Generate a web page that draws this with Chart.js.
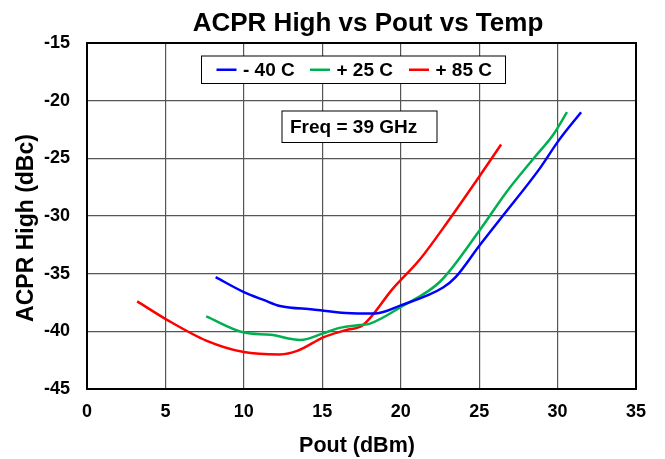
<!DOCTYPE html>
<html>
<head>
<meta charset="utf-8">
<title>ACPR High vs Pout vs Temp</title>
<script src="https://cdn.jsdelivr.net/npm/chart.js@4"></script>
<style>
  html, body { margin: 0; padding: 0; background: #fff; }
  #wrap { width: 665px; height: 459px; }
</style>
</head>
<body>
<div id="wrap"><canvas id="acpr-chart"></canvas></div>
<script>
// values
const poutCold = [8.2, 10.0, 11.3, 12.3, 14.4, 16.5, 18.4, 20.0, 22.7, 23.5, 25.0, 26.5, 28.8, 30.1, 31.5];
const acprCold = [-35.3, -36.6, -37.3, -37.8, -38.1, -38.4, -38.45, -37.75, -36.2, -35.3, -32.6, -30.0, -26.0, -23.4, -21.0];

const poutRoom = [7.6, 10.0, 11.7, 13.6, 15.0, 16.1, 17.4, 18.0, 20.0, 22.5, 25.0, 26.7, 28.6, 29.7, 30.6];
const acprRoom = [-38.7, -40.1, -40.3, -40.75, -40.2, -39.7, -39.45, -39.35, -37.9, -35.7, -31.3, -28.0, -24.8, -23.0, -21.0];

const poutHot = [3.2, 5.1, 7.6, 10.0, 12.3, 13.4, 15.1, 16.5, 17.6, 19.5, 21.2, 23.1, 25.0, 26.4];
const acprHot = [-37.4, -39.0, -40.8, -41.8, -42.0, -41.7, -40.5, -39.9, -39.45, -36.3, -33.8, -30.3, -26.6, -23.8];

const tempLabels = ['- 40 C', '+ 25 C', '+ 85 C'];
const tempColors = ['#0000ff', '#00b050', '#ff0000'];

const xTicks = [0, 5, 10, 15, 20, 25, 30, 35];
const yTicks = [-15, -20, -25, -30, -35, -40, -45];

const chartTitle = 'ACPR High vs Pout vs Temp';
const xTitle = 'Pout (dBm)';
const yTitle = 'ACPR High (dBc)';
const freqNote = 'Freq = 39 GHz';
const FONT = '"Liberation Sans", Arial, sans-serif';

function toPoints(xs, ys) {
    return xs.map((x, i) => ({ x: x, y: ys[i] }));
}

const series = [
    toPoints(poutCold, acprCold),
    toPoints(poutRoom, acprRoom),
    toPoints(poutHot, acprHot)
];

// titles, plot frame, legend box and freq note
const decorations = {
    id: 'decorations',
    beforeDatasetsDraw(chart) {
        const ctx = chart.ctx;
        ctx.save();
        ctx.fillStyle = '#000';
        ctx.textAlign = 'center';
        ctx.textBaseline = 'alphabetic';
        ctx.font = 'bold 26px ' + FONT;
        ctx.fillText(chartTitle, 368, 31);

        ctx.font = 'bold 21.5px ' + FONT;
        ctx.fillText(xTitle, 357, 451.5);

        ctx.translate(33, 228);
        ctx.rotate(-Math.PI / 2);
        ctx.font = 'bold 23px ' + FONT;
        ctx.fillText(yTitle, 0, 0);
        ctx.restore();
    },
    afterDatasetsDraw(chart) {
        const ctx = chart.ctx;
        const a = chart.chartArea;
        ctx.save();

        // legend box
        const lx = a.left + 114.5, ly = a.top + 13, lw = 304, lh = 27.5;
        ctx.fillStyle = '#fff';
        ctx.fillRect(lx, ly, lw, lh);
        ctx.strokeStyle = '#000';
        ctx.lineWidth = 1;
        ctx.strokeRect(lx, ly, lw, lh);

        const entryX = [lx + 15, lx + 108.5, lx + 207.5];
        const midY = ly + lh / 2;
        ctx.font = 'bold 19px ' + FONT;
        ctx.textBaseline = 'middle';
        ctx.textAlign = 'left';
        chart.data.datasets.forEach((ds, i) => {
            ctx.strokeStyle = ds.borderColor;
            ctx.lineWidth = 2.5;
            ctx.beginPath();
            ctx.moveTo(entryX[i], midY);
            ctx.lineTo(entryX[i] + 20, midY);
            ctx.stroke();
            ctx.fillStyle = '#000';
            ctx.fillText(ds.label, entryX[i] + 26.5, midY + 1);
        });

        // freq note
        const fx = a.left + 195, fy = a.top + 68, fw = 155, fh = 31.5;
        ctx.fillStyle = '#fff';
        ctx.fillRect(fx, fy, fw, fh);
        ctx.strokeStyle = '#000';
        ctx.lineWidth = 1;
        ctx.strokeRect(fx, fy, fw, fh);
        ctx.fillStyle = '#000';
        ctx.fillText(freqNote, fx + 8, fy + fh / 2 + 1);

        // plot frame
        ctx.strokeStyle = '#000';
        ctx.lineWidth = 2;
        ctx.strokeRect(a.left, a.top, a.right - a.left, a.bottom - a.top);
        ctx.restore();
    }
};

const chartEl = document.getElementById('acpr-chart');

new Chart(chartEl, {
    type: 'scatter',
    data: {
        datasets: series.map((pts, i) => ({
            label: tempLabels[i],
            data: pts,
            showLine: true,
            borderColor: tempColors[i],
            backgroundColor: tempColors[i],
            borderWidth: 2.5,
            pointRadius: 0,
            cubicInterpolationMode: 'monotone',
            fill: false
        }))
    },
    options: {
        responsive: true,
        maintainAspectRatio: false,
        animation: false,
        layout: {
            padding: { top: 43, right: 29, left: 0, bottom: 0 }
        },
        plugins: {
            legend: { display: false },
            title: { display: false },
            tooltip: { enabled: false }
        },
        scales: {
            x: {
                type: 'linear',
                min: 0,
                max: 35,
                afterBuildTicks: scale => { scale.ticks = xTicks.map(v => ({ value: v })); },
                afterFit: scale => { scale.height = 70; },
                grid: { color: '#555', lineWidth: 1.2, drawTicks: false },
                border: { display: false },
                ticks: {
                    padding: 12,
                    color: '#000',
                    font: { family: FONT, size: 18, weight: 'bold' }
                }
            },
            y: {
                type: 'linear',
                min: -45,
                max: -15,
                afterBuildTicks: scale => { scale.ticks = yTicks.map(v => ({ value: v })); },
                afterFit: scale => { scale.width = 87; },
                grid: { color: '#555', lineWidth: 1.2, drawTicks: false },
                border: { display: false },
                ticks: {
                    padding: 17,
                    color: '#000',
                    font: { family: FONT, size: 18, weight: 'bold' }
                }
            }
        }
    },
    plugins: [decorations]
});
</script>
</body>
</html>
